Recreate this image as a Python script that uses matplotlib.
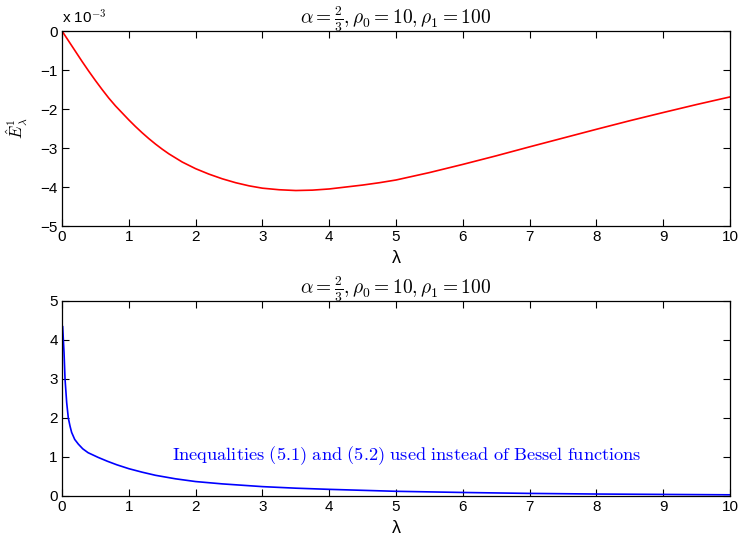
import numpy as np
import matplotlib.pyplot as plt

plt.rcParams['mathtext.fontset'] = 'cm'
plt.rcParams['font.family'] = ['Liberation Sans', 'DejaVu Sans']

# Top panel: E_hat^1_lambda (units of 1e-3)
lam_top = [0, 0.1, 0.2, 0.3, 0.4, 0.5, 0.6, 0.7, 0.8, 0.9, 1.0, 1.1, 1.2,
           1.3, 1.4, 1.5, 1.6, 1.8, 2.0, 2.2, 2.4, 2.6, 2.8, 3.0, 3.25, 3.5,
           3.75, 4.0, 4.25, 4.5, 4.75, 5.0, 5.5, 6.0, 6.5, 7.0, 7.5, 8.0,
           8.5, 9.0, 9.5, 10.0]
e_top = [0, -0.26, -0.52, -0.78, -1.03, -1.27, -1.50, -1.72, -1.92, -2.10,
         -2.28, -2.45, -2.61, -2.76, -2.90, -3.03, -3.15, -3.36, -3.53,
         -3.67, -3.79, -3.89, -3.97, -4.03, -4.07, -4.09, -4.08, -4.05,
         -4.00, -3.95, -3.89, -3.82, -3.63, -3.42, -3.20, -2.97, -2.745,
         -2.52, -2.30, -2.09, -1.885, -1.69]

# Bottom panel
lam_bot = [0.01, 0.02, 0.03, 0.045, 0.07, 0.094, 0.12, 0.144, 0.19, 0.244,
           0.31, 0.39, 0.54, 0.68, 0.82, 1.0, 1.2, 1.4, 1.7, 2.0, 2.4, 3.0,
           3.5, 4.0, 4.5, 5.0, 6.0, 7.0, 8.0, 9.0, 10.0]
v_bot = [4.34, 4.0, 3.68, 3.0, 2.39, 2.0, 1.79, 1.63, 1.45, 1.33,
         1.21, 1.11, 0.99, 0.89, 0.80, 0.70, 0.61, 0.53, 0.44, 0.37, 0.31,
         0.24, 0.20, 0.17, 0.145, 0.12, 0.09, 0.066, 0.05, 0.04, 0.03]

title = r'$\alpha = \frac{2}{3}, \rho_0 = 10, \rho_1 = 100$'
note = r'$\mathrm{Inequalities\ (5.1)\ and\ (5.2)\ used\ instead\ of\ Bessel\ functions}$'

fig = plt.figure(figsize=(7.41, 5.42), dpi=100)
ax1 = fig.add_axes([0.0837, 0.583, 0.9015, 0.3598])
ax2 = fig.add_axes([0.0837, 0.0849, 0.9015, 0.3598])

for ax in (ax1, ax2):
    ax.set_xlim(0, 10)
    ax.set_xticks(range(11))
    ax.tick_params(direction='in', top=True, right=True, length=5, width=0.8,
                   labelsize=11, pad=3)
    for s in ax.spines.values():
        s.set_linewidth(0.9)
    ax.set_xlabel('λ', fontsize=13, labelpad=4)
    ax.set_title(title, fontsize=14, pad=5)

ax1.plot(lam_top, e_top, color='red', lw=1.2)
ax1.set_ylim(-5, 0)
ax1.set_yticks([-5, -4, -3, -2, -1, 0])
ax1.set_yticklabels(['\u22125', '\u22124', '\u22123', '\u22122', '\u22121', '0'])
ax1.set_ylabel(r'$\hat{E}^1_\lambda$', fontsize=12, labelpad=8)
ax1.text(0, 1.02, r'x 10$^{-3}$', transform=ax1.transAxes, fontsize=11,
         va='bottom', ha='left')

ax2.plot(lam_bot, v_bot, color='blue', lw=1.2)
ax2.set_ylim(0, 5)
ax2.set_yticks(range(6))
ax2.text(1.65, 1.03, note, color='blue', fontsize=13.2, va='center', ha='left')

fig.savefig('out.png', dpi=100)
